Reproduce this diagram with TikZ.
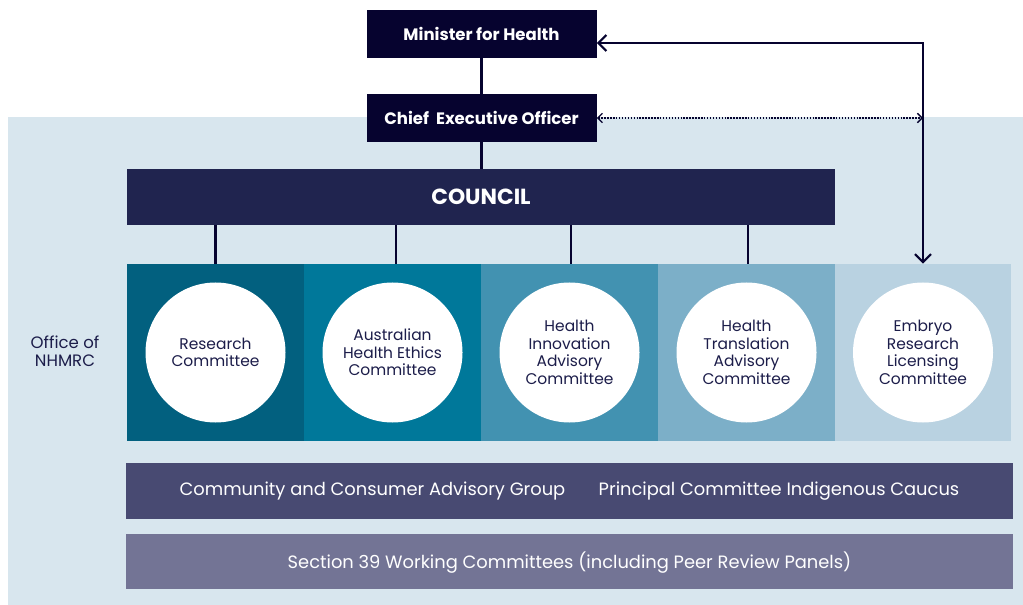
\documentclass[tikz,border=0pt]{standalone}
\usepackage{fontspec}
\setmainfont{Poppins}
\usetikzlibrary{arrows.meta}
\definecolor{bgblue}{HTML}{D8E6EE}
\definecolor{navy}{HTML}{06032F}
\definecolor{council}{HTML}{20244F}
\definecolor{pA}{HTML}{02607F}
\definecolor{pB}{HTML}{00789A}
\definecolor{pC}{HTML}{4292B1}
\definecolor{pD}{HTML}{7CAFC8}
\definecolor{pE}{HTML}{B9D2E1}
\definecolor{grpA}{HTML}{484A72}
\definecolor{grpB}{HTML}{737495}
\definecolor{ink}{HTML}{1C1D4A}
\tikzset{
  topbox/.style={rectangle, fill=navy, text=white, font=\fontsize{12.4}{14}\selectfont\bfseries, minimum width=172.5pt, minimum height=36pt, inner sep=0pt},
  panel/.style={rectangle, minimum width=132.75pt, minimum height=132.75pt, inner sep=0pt},
  circ/.style={circle, fill=white, text=ink, minimum size=105pt, inner sep=0pt, align=center, font=\fontsize{11.6}{13.2}\selectfont},
  band/.style={rectangle, minimum width=665.25pt, inner sep=0pt},
  bandtext/.style={text=white, font=\fontsize{13.4}{15}\selectfont, inner sep=0pt},
  link/.style={draw=navy, line width=1.7pt},
  bigtip/.tip={Straight Barb[length=6pt,width=12pt]},
  smalltip/.tip={Straight Barb[length=3.5pt,width=7pt,line width=1pt]}
}
\begin{document}
\begin{tikzpicture}[x=0.75pt,y=-0.75pt]
\useasboundingbox (0,0) rectangle (1023,605);
\fill[bgblue] (8,117) rectangle (1023,605);

\node[topbox] (min) at (481.5,34) {Minister for Health};
\node[topbox] (ceo) at (481.5,118) {Chief\ \ Executive Officer};
\node[rectangle, fill=council, text=white, minimum width=531pt, minimum height=42pt, inner sep=0pt, font=\fontsize{16.4}{18}\selectfont\bfseries] (cou) at (481,197) {COUNCIL};

\node[panel, fill=pA] (p1) at (215.5,352.5) {};
\node[panel, fill=pB] (p2) at (392.5,352.5) {};
\node[panel, fill=pC] (p3) at (569.5,352.5) {};
\node[panel, fill=pD] (p4) at (746.5,352.5) {};
\node[panel, fill=pE, minimum width=132pt] (p5) at (923,352.5) {};

\node[circ] (c1) at (p1) {Research\\Committee};
\node[circ] (c2) at (p2) {Australian\\Health Ethics\\Committee};
\node[circ] (c3) at (p3) {Health\\Innovation\\Advisory\\Committee};
\node[circ] (c4) at (p4) {Health\\Translation\\Advisory\\Committee};
\node[circ] (c5) at (p5) {Embryo\\Research\\Licensing\\Committee};

\node[text=ink, align=center, font=\fontsize{12.4}{13.6}\selectfont] (office) at (65,351) {Office of\\NHMRC};

\node[band, fill=grpA, minimum height=42pt] (g1) at (569.5,491) {};
\node[bandtext] (ccag) at (372.5,491.5) {Community and Consumer Advisory Group};
\node[bandtext] (pcic) at (779,491.5) {Principal Committee Indigenous Caucus};
\node[band, fill=grpB, minimum height=41.25pt] (g2) at (569.5,561.5) {};
\node[bandtext] (s39) at (569.5,562.5) {Section 39 Working Committees (including Peer Review Panels)};

\draw[link] (min.south) -- (ceo.north);
\draw[link] (ceo.south) -- (ceo.south |- cou.north);
\foreach \p/\dx in {p1/0, p2/3.5, p3/1.5, p4/1.5}
  \draw[link] ([xshift=\dx*0.75pt]\p.north |- cou.south) -- ([xshift=\dx*0.75pt]\p.north);

\coordinate (turn) at (923,43);
\draw[link, arrows={bigtip-bigtip}] (turn -| min.east) -- (turn) -- (p5.north);
\draw[draw=navy, line width=1.1pt, dash pattern=on 1.1pt off 1.1pt, arrows={smalltip-smalltip}] (ceo.east) -- (ceo.east -| turn);
\end{tikzpicture}
\end{document}
